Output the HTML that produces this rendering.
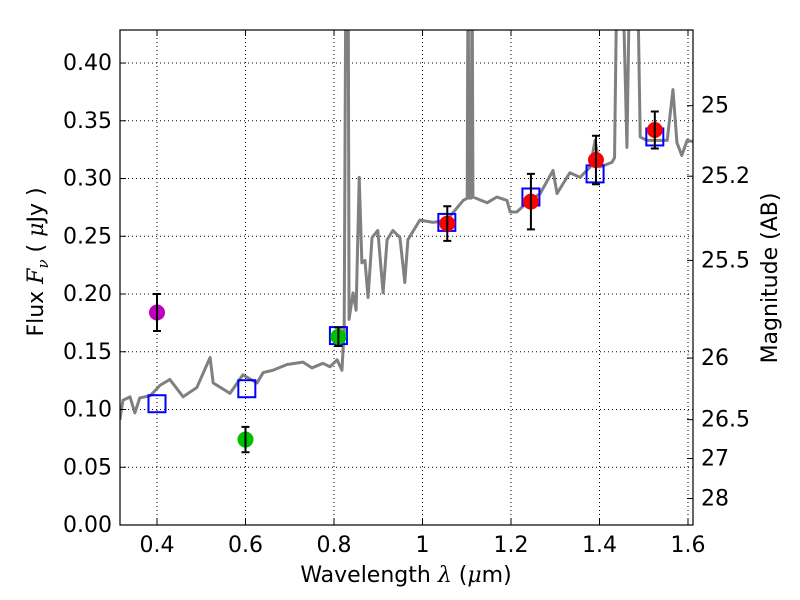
<!DOCTYPE html>
<html><head><meta charset="utf-8"><style>
body{margin:0;background:#fff;}
svg{display:block;font-family:"DejaVu Sans","Liberation Sans",sans-serif;}
</style></head><body>
<svg id="chart" width="800" height="600"></svg>
<script>
const specWave=[0.316,0.323,0.339,0.35,0.361,0.385,0.407,0.429,0.459,0.49,0.52,0.527,0.565,0.594,0.626,0.64,0.662,0.694,0.73,0.75,0.775,0.791,0.807,0.818,0.823,0.827,0.832,0.834,0.843,0.85,0.857,0.863,0.87,0.877,0.886,0.899,0.911,0.92,0.933,0.949,0.96,0.967,0.994,1.024,1.055,1.092,1.101,1.103,1.105,1.11,1.112,1.114,1.146,1.168,1.191,1.198,1.213,1.236,1.266,1.295,1.304,1.333,1.356,1.379,1.39,1.401,1.428,1.434,1.44,1.446,1.451,1.462,1.469,1.475,1.485,1.492,1.507,1.553,1.566,1.575,1.586,1.598,1.611];
const specFlux=[0.091,0.108,0.111,0.097,0.110,0.112,0.121,0.126,0.111,0.119,0.145,0.123,0.114,0.130,0.123,0.132,0.134,0.139,0.141,0.136,0.140,0.137,0.143,0.134,0.169,0.5,0.5,0.178,0.201,0.186,0.301,0.227,0.229,0.197,0.249,0.255,0.201,0.247,0.255,0.249,0.210,0.247,0.264,0.262,0.264,0.281,0.283,0.5,0.283,0.283,0.5,0.284,0.279,0.284,0.281,0.271,0.271,0.279,0.287,0.307,0.287,0.305,0.301,0.310,0.333,0.310,0.314,0.318,0.5,0.5,0.5,0.327,0.5,0.5,0.5,0.336,0.333,0.333,0.377,0.331,0.320,0.333,0.332];
const photWave=[0.40,0.60,0.81,1.056,1.245,1.392,1.525];
const photFlux=[0.184,0.074,0.163,0.261,0.280,0.316,0.342];
const photErr=[0.016,0.011,0.008,0.015,0.024,0.021,0.016];
const photColor=['#bf00bf','#00bf00','#00bf00','#ff0000','#ff0000','#ff0000','#ff0000'];
const modelWave=[0.40,0.603,0.81,1.055,1.245,1.39,1.525];
const modelFlux=[0.105,0.118,0.164,0.262,0.284,0.304,0.336];
const xTicks=[0.4,0.6,0.8,1.0,1.2,1.4,1.6];
const xTickLabels=['0.4','0.6','0.8','1','1.2','1.4','1.6'];
const yTicks=[0,0.05,0.1,0.15,0.2,0.25,0.3,0.35,0.4];
const yTickLabels=['0.00','0.05','0.10','0.15','0.20','0.25','0.30','0.35','0.40'];
const magTicks=[25,25.2,25.5,26,26.5,27,28];
const magTickLabels=['25','25.2','25.5','26','26.5','27','28'];

const L=120,R=693,T=30,B=525,xmin=0.3164,xmax=1.6113,ymin=0,ymax=0.4286;
const X=v=>L+(v-xmin)/(xmax-xmin)*(R-L);
const Y=v=>B-(v-ymin)/(ymax-ymin)*(B-T);
const NS='http://www.w3.org/2000/svg';
const svg=document.getElementById('chart');
function mk(tag,attrs,parent){const e=document.createElementNS(NS,tag);for(const k in attrs)e.setAttribute(k,attrs[k]);(parent||svg).appendChild(e);return e;}
const defs=mk('defs',{});const cp=mk('clipPath',{id:'clip'},defs);mk('rect',{x:L,y:T,width:R-L,height:B-T},cp);

xTicks.forEach(v=>{const g=mk('line',{x1:X(v),x2:X(v),y1:T,y2:B,stroke:'#000','stroke-width':1,'stroke-dasharray':'1,3'});

});
yTicks.forEach(v=>{const g=mk('line',{x1:L,x2:R,y1:Y(v),y2:Y(v),stroke:'#000','stroke-width':1,'stroke-dasharray':'1,3'});

});

const cg=mk('g',{'clip-path':'url(#clip)'});
const sp=mk('polyline',{points:specWave.map((w,i)=>X(w)+','+Y(specFlux[i])).join(' '),fill:'none',stroke:'#808080','stroke-width':3,'stroke-linejoin':'round'},cg);



modelWave.forEach((w,i)=>{const s=mk('rect',{x:X(w)-8.5,y:Y(modelFlux[i])-8.5,width:17,height:17,fill:'none',stroke:'#0000ff','stroke-width':2},cg);

});

photWave.forEach((w,i)=>{const x=X(w),yt=Y(photFlux[i]+photErr[i]),yb=Y(photFlux[i]-photErr[i]);
const c=mk('circle',{cx:x,cy:Y(photFlux[i]),r:8,fill:photColor[i]},cg);


const e=mk('path',{d:`M${x},${yt}V${yb}M${x-4},${yt}H${x+4}M${x-4},${yb}H${x+4}`,stroke:'#000','stroke-width':2,fill:'none'},cg);

});

const fr=mk('rect',{x:L,y:T,width:R-L,height:B-T,fill:'none',stroke:'#000','stroke-width':1.2});



xTicks.forEach((v,i)=>{mk('line',{x1:X(v),x2:X(v),y1:B,y2:B-6,stroke:'#000'});mk('line',{x1:X(v),x2:X(v),y1:T,y2:T+6,stroke:'#000'});
const t=mk('text',{x:X(v),y:B+27,'text-anchor':'middle','font-size':22});t.textContent=xTickLabels[i];

});
yTicks.forEach((v,i)=>{mk('line',{x1:L,x2:L+6,y1:Y(v),y2:Y(v),stroke:'#000'});
const t=mk('text',{x:L-8,y:Y(v)+7,'text-anchor':'end','font-size':22});t.textContent=yTickLabels[i];

});
magTicks.forEach((m,i)=>{const y=Y(Math.pow(10,(23.9-m)/2.5));mk('line',{x1:R,x2:R-6,y1:y,y2:y,stroke:'#000'});
const t=mk('text',{x:R+8,y:y+7,'font-size':22});t.textContent=magTickLabels[i];

});
</script>
<svg width="800" height="600" style="position:absolute;left:0;top:0;font-family:'DejaVu Sans','Liberation Sans',sans-serif">
<text x="406" y="582" text-anchor="middle" font-size="22">Wavelength  <tspan font-style="italic" font-family="DejaVu Serif,serif">λ</tspan> (<tspan font-style="italic" font-family="DejaVu Serif,serif">μ</tspan>m)</text>
<text transform="translate(43,262) rotate(-90)" text-anchor="middle" font-size="22">Flux  <tspan font-style="italic" font-family="DejaVu Serif,serif">F</tspan><tspan font-style="italic" font-family="DejaVu Serif,serif" font-size="15" dy="5">ν</tspan><tspan dy="-5">  (  </tspan><tspan font-style="italic" font-family="DejaVu Serif,serif">μ</tspan>Jy )</text>
<text transform="translate(777,278) rotate(-90)" text-anchor="middle" font-size="22">Magnitude (AB)</text>
</svg>
</body></html>
